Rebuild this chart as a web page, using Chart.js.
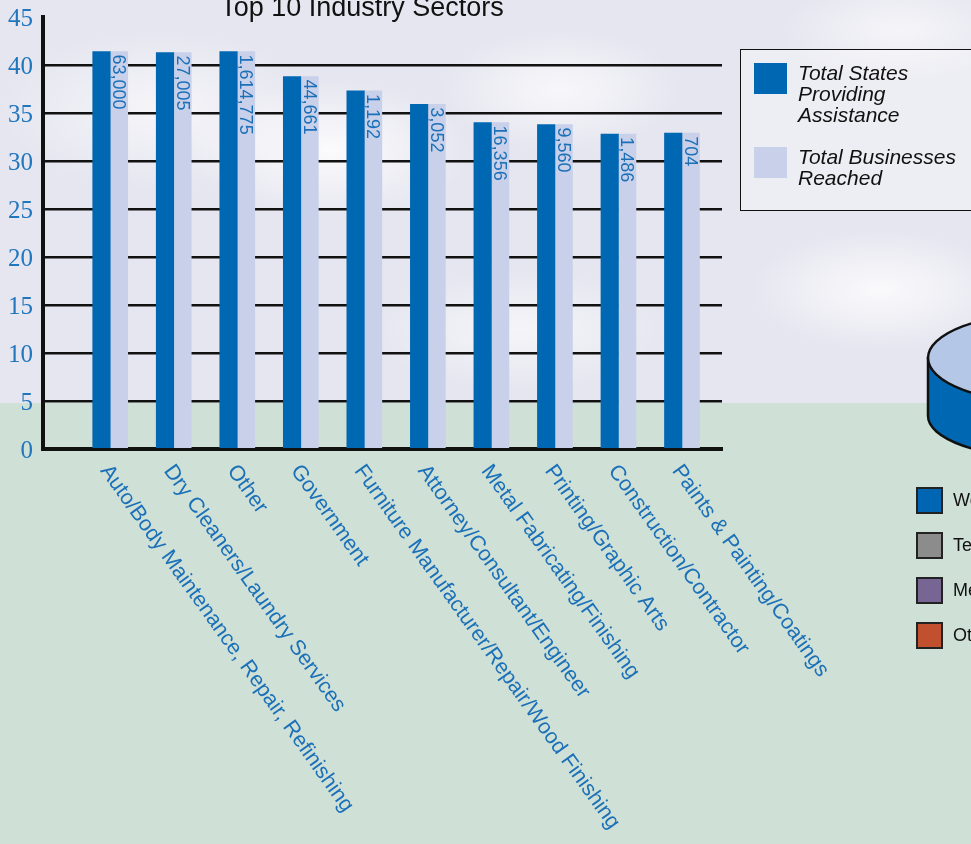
<!DOCTYPE html>
<html>
<head>
<meta charset="utf-8">
<script src="https://cdn.jsdelivr.net/npm/chart.js@4.4.1/dist/chart.umd.min.js"></script>
<style>
html, body { margin: 0; padding: 0; width: 971px; height: 844px; overflow: hidden; }
body { position: relative; font-family: 'Liberation Sans', Arial, sans-serif; }
#sky {
    position: absolute; left: 0; top: 0; width: 971px; height: 403px;
    background:
        radial-gradient(ellipse 140px 70px at 330px 150px, rgba(255,255,255,0.85), rgba(255,255,255,0)),
        radial-gradient(ellipse 120px 60px at 560px 90px, rgba(255,255,255,0.7), rgba(255,255,255,0)),
        radial-gradient(ellipse 160px 80px at 160px 110px, rgba(255,255,255,0.6), rgba(255,255,255,0)),
        radial-gradient(ellipse 130px 60px at 880px 290px, rgba(255,255,255,0.8), rgba(255,255,255,0)),
        radial-gradient(ellipse 150px 60px at 520px 330px, rgba(255,255,255,0.6), rgba(255,255,255,0)),
        radial-gradient(ellipse 120px 50px at 900px 30px, rgba(255,255,255,0.6), rgba(255,255,255,0)),
        #e6e6f0;
}
#ground { position: absolute; left: 0; top: 403px; width: 971px; height: 441px; background: #cfe0d6; }
#cyl { position: absolute; left: 0; top: 0; }
#chart { position: absolute; left: 0; top: 0; }
#legend {
    position: absolute; left: 740px; top: 49px; width: 260px; height: 160px;
    border: 1.5px solid #111; background: rgba(255,255,255,0.3);
    font: italic 21px 'Liberation Sans', Arial, sans-serif; color: #111; line-height: 21px;
}
#legend .item { position: absolute; left: 0; }
#legend .sw { position: absolute; left: 13px; top: 1px; width: 33px; height: 31px; }
#legend .txt { position: absolute; left: 57px; top: 0; white-space: nowrap; }
#pieLegend { position: absolute; left: 916px; top: 487px; font: 18px 'Liberation Sans', Arial, sans-serif; color: #111; }
#pieLegend .row { position: absolute; left: 0; height: 27px; white-space: nowrap; }
#pieLegend .sq { position: absolute; left: 0; top: 0; width: 23px; height: 23px; border: 2px solid #222; }
#pieLegend .lbl { position: absolute; left: 37px; top: 3px; }
</style>
</head>
<body>
<div id="sky"></div>
<div id="ground"></div>
<svg id="cyl" width="971" height="844">
    <path d="M928,358 L928,416 A120,42 0 0,0 1168,416 L1168,358 Z" fill="#0068b3" stroke="#111" stroke-width="2.5"/>
    <ellipse cx="1048" cy="358" rx="120" ry="45" fill="#b4c7e7" stroke="#111" stroke-width="2.5"/>
</svg>
<canvas id="chart" width="971" height="844"></canvas>
<div id="legend"></div>
<div id="pieLegend"></div>
<script>
// Data
const sectors = [
    'Auto/Body Maintenance, Repair, Refinishing',
    'Dry Cleaners/Laundry Services',
    'Other',
    'Government',
    'Furniture Manufacturer/Repair/Wood Finishing',
    'Attorney/Consultant/Engineer',
    'Metal Fabricating/Finishing',
    'Printing/Graphic Arts',
    'Construction/Contractor',
    'Paints & Painting/Coatings'
];
const statesProviding = [41.4, 41.3, 41.4, 38.8, 37.3, 35.9, 34.0, 33.8, 32.8, 32.9];
const businessesReached = [63000, 27005, 1614775, 44661, 1192, 3052, 16356, 9560, 1486, 704];
const seriesNames = [['Total States', 'Providing', 'Assistance'], ['Total Businesses', 'Reached']];
const seriesColors = ['#0068b3', '#c9d0e9'];
const yMax = 45;
const yStep = 5;

// second (cut off) chart legend on the right edge
const pieNames = ['Workshops', 'Telephone', 'Meetings', 'Other'];
const pieColors = ['#0066b3', '#8c8c8c', '#776694', '#c0502e'];

const blue = '#1b70b8';

// Legend box
const legendEl = document.getElementById('legend');
const legendTops = [12, 96];
seriesNames.forEach((lines, i) => {
    const item = document.createElement('div');
    item.className = 'item';
    item.style.top = legendTops[i] + 'px';
    item.style.width = '100%';
    const sw = document.createElement('div');
    sw.className = 'sw';
    sw.style.background = seriesColors[i];
    const txt = document.createElement('div');
    txt.className = 'txt';
    txt.innerHTML = lines.join('<br>');
    item.appendChild(sw);
    item.appendChild(txt);
    legendEl.appendChild(item);
});

const pieLegendEl = document.getElementById('pieLegend');
pieNames.forEach((name, i) => {
    const row = document.createElement('div');
    row.className = 'row';
    row.style.top = (i * 45) + 'px';
    const sq = document.createElement('div');
    sq.className = 'sq';
    sq.style.background = pieColors[i];
    const lbl = document.createElement('div');
    lbl.className = 'lbl';
    lbl.innerText = name;
    row.appendChild(sq);
    row.appendChild(lbl);
    pieLegendEl.appendChild(row);
});

// Title, slanted category names and business counts inside the light bars
const textPlugin = {
    id: 'textPlugin',
    afterDraw(chart) {
        const ctx = chart.ctx;
        const xScale = chart.scales.x;
        const bottom = chart.chartArea.bottom;

        ctx.save();
        ctx.fillStyle = '#111';
        ctx.font = "27px 'Liberation Sans', Arial, sans-serif";
        ctx.textAlign = 'center';
        ctx.textBaseline = 'alphabetic';
        ctx.fillText('Top 10 Industry Sectors', 362, 16);
        ctx.restore();

        const angle = 54.5 * Math.PI / 180;
        sectors.forEach((name, i) => {
            const x = xScale.getPixelForValue(i) + 3;
            ctx.save();
            ctx.translate(x, bottom + 12);
            ctx.rotate(angle);
            ctx.fillStyle = blue;
            ctx.font = "21.5px 'Liberation Sans', Arial, sans-serif";
            ctx.textAlign = 'left';
            ctx.textBaseline = 'top';
            ctx.fillText(name, 0, 0);
            ctx.restore();
        });

        const meta = chart.getDatasetMeta(1);
        meta.data.forEach((bar, i) => {
            ctx.save();
            ctx.translate(bar.x - 1, bar.y + 3);
            ctx.rotate(Math.PI / 2);
            ctx.fillStyle = blue;
            ctx.font = "18px 'Liberation Sans', Arial, sans-serif";
            ctx.textAlign = 'left';
            ctx.textBaseline = 'middle';
            ctx.fillText(businessesReached[i].toLocaleString('en-US'), 0, 0);
            ctx.restore();
        });
    }
};

new Chart(document.getElementById('chart').getContext('2d'), {
    type: 'bar',
    data: {
        datasets: [
            {
                label: seriesNames[0].join(' '),
                data: statesProviding.map((v, i) => ({ x: i, y: v })),
                backgroundColor: seriesColors[0],
                borderWidth: 0,
                barThickness: 17.5
            },
            {
                label: seriesNames[1].join(' '),
                // light bars are drawn at the same height, carrying the business counts
                data: statesProviding.map((v, i) => ({ x: i, y: v })),
                backgroundColor: seriesColors[1],
                borderWidth: 0,
                barThickness: 17.5
            }
        ]
    },
    options: {
        responsive: false,
        animation: false,
        layout: { padding: { top: 17, right: 249, bottom: 0, left: 0 } },
        plugins: {
            legend: { display: false },
            tooltip: { enabled: false },
            title: { display: false }
        },
        scales: {
            x: {
                type: 'linear',
                offset: false,
                min: -1.058,
                max: 9.63,
                grid: { display: false },
                ticks: { display: false },
                border: { color: '#111', width: 4 },
                afterFit(scale) { scale.height = 395; }
            },
            y: {
                min: 0,
                max: yMax,
                ticks: {
                    stepSize: yStep,
                    color: '#2176bd',
                    padding: 10,
                    labelOffset: 2,
                    font: { family: "'Liberation Serif', 'Times New Roman', serif", size: 25 }
                },
                grid: {
                    drawTicks: false,
                    lineWidth: 2.5,
                    color: ctx => (ctx.tick && ctx.tick.value === yMax) ? 'rgba(0,0,0,0)' : '#111'
                },
                border: { color: '#111', width: 4 },
                afterFit(scale) {
                    scale.width = 43;
                    scale.paddingTop = 0;
                    scale.paddingBottom = 0;
                }
            }
        }
    },
    plugins: [textPlugin]
});
</script>
</body>
</html>
